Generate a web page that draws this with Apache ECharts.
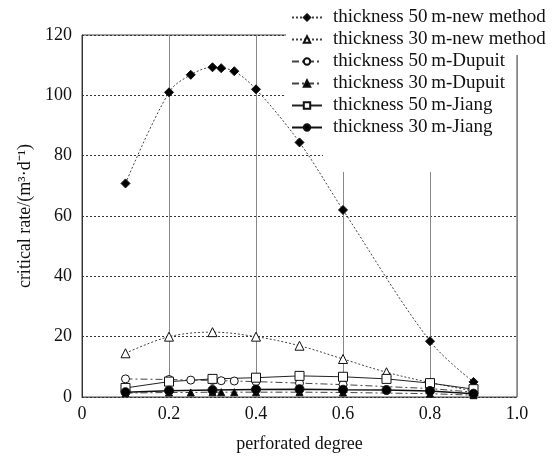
<!DOCTYPE html>
<html>
<head>
<meta charset="utf-8">
<script src="https://cdn.jsdelivr.net/npm/echarts@6/dist/echarts.min.js"></script>
<style>
  html, body { margin: 0; padding: 0; background: #fff; }
  #chart { width: 555px; height: 461px; }
</style>
</head>
<body>
<div id="chart"></div>
<script>
// perforated degree positions
var xNew50 = [0.1, 0.2, 0.25, 0.3, 0.32, 0.35, 0.4, 0.5, 0.6, 0.8, 0.9];
var xNew30 = [0.1, 0.2, 0.3, 0.4, 0.5, 0.6, 0.7, 0.8, 0.9];
var xJiang = [0.1, 0.2, 0.3, 0.4, 0.5, 0.6, 0.7, 0.8, 0.9];

// critical rate values
var new50 = [70.8, 101, 106.8, 109.3, 109, 108, 102, 84.4, 62, 18.5, 5];
var new30 = [14.5, 20, 21.5, 20, 17, 12.6, 8.2, 4.8, 2.0];
var dupuit50 = [6, 5.8, 5.6, 5.5, 5.4, 5.3, 5.1, 4.6, 4.1, 2.8, 1.6];
var dupuit30 = [1.3, 1.5, 1.5, 1.6, 1.6, 1.6, 1.6, 1.6, 1.5, 1.1, 0.6];
var jiang50 = [3.0, 5.1, 6.0, 6.4, 7.0, 6.7, 6.0, 4.6, 2.6];
var jiang30 = [1.6, 2.1, 2.3, 2.5, 2.6, 2.4, 2.3, 2.0, 1.1];

var names = [
  'thickness 50\u2009m-new method',
  'thickness 30\u2009m-new method',
  'thickness 50\u2009m-Dupuit',
  'thickness 30\u2009m-Dupuit',
  'thickness 50\u2009m-Jiang',
  'thickness 30\u2009m-Jiang'
];

var serif = "'Liberation Serif', 'Times New Roman', serif";

function pairs(xs, ys) {
  return xs.map(function (x, i) { return [x, ys[i]]; });
}

function line(name, xs, ys, opt) {
  return {
    name: name,
    type: 'line',
    data: pairs(xs, ys),
    smooth: opt.smooth || false,
    symbol: opt.symbol,
    symbolSize: opt.size,
    showAllSymbol: true,
    lineStyle: { color: opt.lineColor || '#222', width: opt.width || 1, type: opt.dash },
    itemStyle: {
      color: opt.fill,
      borderColor: '#111',
      borderWidth: 1
    },
    emphasis: { disabled: true }
  };
}

// white patches where the pasted legend hides the grid
function patch(x, y, w, h) {
  return { type: 'rect', z: 1, shape: { x: x, y: y, width: w, height: h }, style: { fill: '#fff' } };
}

var chart = echarts.init(document.getElementById('chart'));
chart.setOption({
  backgroundColor: '#fff',
  animation: false,
  textStyle: { fontFamily: serif },
  grid: {
    left: 82, right: 38, top: 35, bottom: 64,
    show: true, borderColor: '#444', borderWidth: 1
  },
  legend: {
    left: 287, top: 4,
    orient: 'vertical',
    itemWidth: 30, itemHeight: 8, itemGap: 3,
    padding: 4,
    textStyle: { fontFamily: serif, fontSize: 19, color: '#111', lineHeight: 19, padding: [0, 0, 0, 6] },
    data: names
  },
  graphic: [
    patch(286, 0, 269, 55),
    patch(286, 55, 230, 83),
    patch(323, 138, 193, 34)
  ],
  xAxis: {
    type: 'value', min: 0, max: 1, interval: 0.2,
    name: 'perforated degree', nameLocation: 'middle', nameGap: 38,
    nameTextStyle: { fontFamily: serif, fontSize: 18, color: '#111' },
    axisLine: { show: true, onZero: false, lineStyle: { color: '#333', type: [2, 2] } },
    axisTick: { show: false },
    axisLabel: {
      fontFamily: serif, fontSize: 18, color: '#111', margin: 8,
      formatter: function (v) { return v === 0 ? '0' : v.toFixed(1); }
    },
    splitLine: { show: true, lineStyle: { color: '#888', width: 1 } }
  },
  yAxis: {
    type: 'value', min: 0, max: 120, interval: 20,
    name: 'critical rate/(m\u00b3\u00b7d\u207b\u00b9)', nameLocation: 'middle', nameGap: 46,
    nameTextStyle: { fontFamily: serif, fontSize: 18, color: '#111' },
    axisLine: { show: true, lineStyle: { color: '#333' } },
    axisTick: { show: false },
    axisLabel: { fontFamily: serif, fontSize: 18, color: '#111', margin: 10 },
    splitLine: { show: true, lineStyle: { color: '#333', type: [2, 2], width: 1 } }
  },
  series: [
    line(names[0], xNew50, new50, { symbol: 'diamond', size: 9, fill: '#000', dash: [2, 2], smooth: 0.35, lineColor: '#444' }),
    line(names[1], xNew30, new30, { symbol: 'triangle', size: 9, fill: '#fff', dash: [2, 2], smooth: 0.35, lineColor: '#444' }),
    line(names[2], xNew50, dupuit50, { symbol: 'circle', size: 8, fill: '#fff', dash: [7, 3, 2, 3], lineColor: '#444' }),
    line(names[3], xNew50, dupuit30, { symbol: 'triangle', size: 7, fill: '#000', dash: [7, 3, 2, 3], lineColor: '#444' }),
    line(names[4], xJiang, jiang50, { symbol: 'rect', size: 9, fill: '#fff', dash: 'solid', lineColor: '#222' }),
    line(names[5], xJiang, jiang30, { symbol: 'circle', size: 9, fill: '#000', dash: 'solid', lineColor: '#111', width: 1.5 })
  ]
});
</script>
</body>
</html>
